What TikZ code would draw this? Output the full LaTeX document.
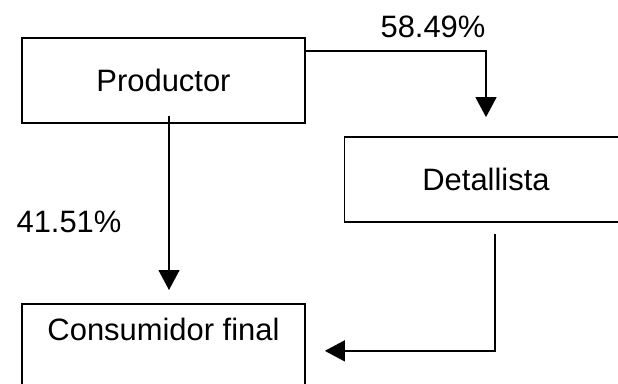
\documentclass[tikz,border=0pt]{standalone}
\usepackage{fontspec}
\setmainfont{Liberation Sans}
\usetikzlibrary{arrows.meta}

\begin{document}
\begin{tikzpicture}[x=0.02cm, y=-0.02cm, line width=1pt,
            font=\fontsize{17.6}{21}\selectfont,
            caja/.style={draw, rectangle, minimum width=5.66cm, minimum height=1.7cm, inner sep=0pt}]
                \clip (0, 0) rectangle (618, 384);
                \node[caja](prod) at (163.5, 80.5) {Productor};
                \node[caja](det) at (486, 179.5) {Detallista};
                \node[caja, anchor=north, minimum height=0pt, inner ysep=0.28cm,
                    text height=0.45cm, text depth=0.69cm](cons) at (163.5, 303) {Consumidor final};
                \node[inner sep=0pt](p58) at (433, 27) {58.49\%};
                \node[inner sep=0pt](p41) at (69, 222) {41.51\%};

            \begin{scope}[-{Triangle[width=0.42cm,length=0.4cm]}, line width=0.85pt]
                \draw[shorten >=0.38cm]([yshift=-0.28cm]prod.north east) -| (det.north);
                \draw[shorten >=0.26cm]([xshift=0.11cm,yshift=0.16cm]prod.south) -- ([xshift=0.11cm]cons.north);
                \draw[shorten <=0.22cm, shorten >=0.38cm]([xshift=0.18cm]det.south) |- ([yshift=-0.09cm]cons.east);
            \end{scope}
        \end{tikzpicture}
\end{document}
